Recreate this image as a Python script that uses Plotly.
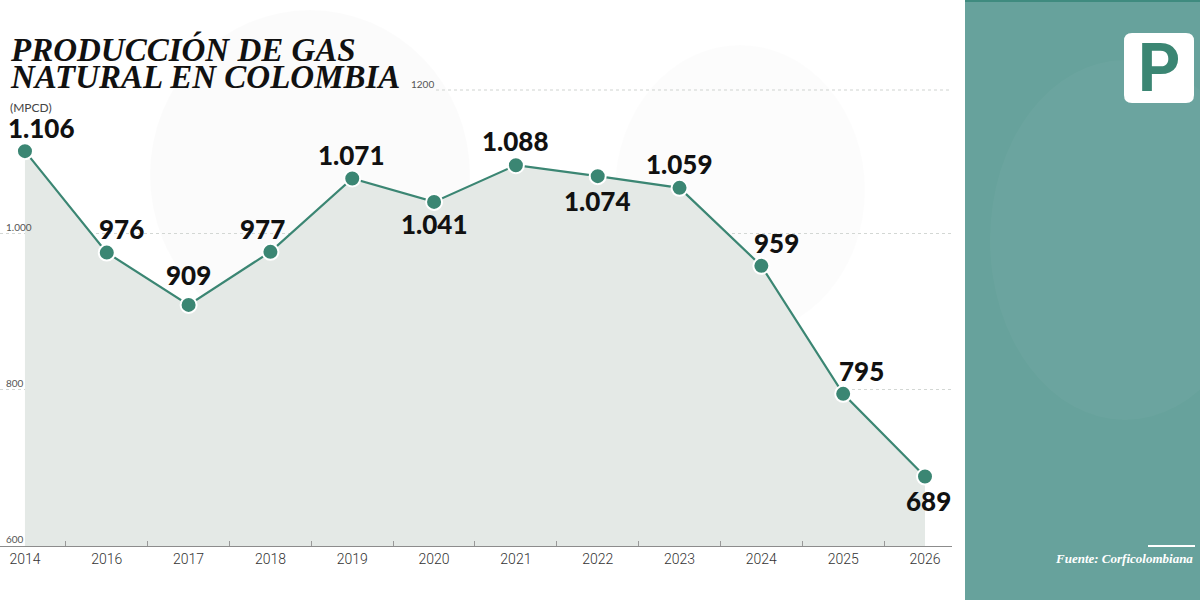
import plotly.graph_objects as go

# producción de gas natural, MPCD
years = ["2014", "2016", "2017", "2018", "2019", "2020",
         "2021", "2022", "2023", "2024", "2025", "2026"]
production = [1106, 976, 909, 977, 1071, 1041, 1088, 1074, 1059, 959, 795, 689]
y_ticks = [600, 800, 1000]
y_tick_text = ["600", "800", "1.000"]

# label offsets (px) from each marker: right, up
label_shift = [(17, 23), (15, 24), (0, 30), (-8, 23), (-1, 23), (0, -22),
               (0, 24), (0, -25), (0, 24), (15, 23), (18, 23), (3, -24)]

TEAL = "#3b8673"
FILL = "#e4e9e6"
PANEL = "#67a29c"

# plot area in px
L, T, PW, PH = 0, 31, 952, 515


def px(x):
    return (x - L) / PW


def py(y):
    return (T + PH - y) / PH


def fmt(v):
    return f"{v:,}".replace(",", ".")


idx = list(range(len(years)))

fig = go.Figure()
fig.add_trace(go.Scatter(
    x=idx, y=production,
    mode="lines+markers",
    fill="tozeroy", fillcolor=FILL,
    line=dict(color=TEAL, width=2.2),
    marker=dict(size=16, color=TEAL, line=dict(color="white", width=2)),
    cliponaxis=False,
    hoverinfo="skip",
))

annotations = []
for i, v in enumerate(production):
    dx, dy = label_shift[i]
    annotations.append(dict(
        x=i, y=v, xref="x", yref="y", text=fmt(v), showarrow=False,
        xshift=dx, yshift=dy, xanchor="center", yanchor="middle",
        font=dict(family="Lato", size=26, color="#111111", weight=900),
    ))

# y tick labels
for val, txt in zip(y_ticks, y_tick_text):
    annotations.append(dict(
        x=px(4), y=val, xref="paper", yref="y", text=txt, showarrow=False,
        xanchor="left", yanchor="bottom", yshift=-1,
        font=dict(family="Lato", size=10, color="#555555"),
    ))
annotations.append(dict(
    x=px(409), y=py(90), xref="paper", yref="paper", text="1200", showarrow=False,
    xanchor="left", yanchor="bottom", yshift=-2,
    font=dict(family="Lato", size=10, color="#555555"),
))

# title block
annotations += [
    dict(x=px(8), y=py(49), xref="paper", yref="paper",
         text="<b><i>PRODUCCIÓN DE GAS</i></b>", showarrow=False,
         xanchor="left", yanchor="middle",
         font=dict(family="Liberation Serif", size=33, color="#111111")),
    dict(x=px(8), y=py(77), xref="paper", yref="paper",
         text="<b><i>NATURAL EN COLOMBIA</i></b>", showarrow=False,
         xanchor="left", yanchor="middle",
         font=dict(family="Liberation Serif", size=33, color="#111111")),
    dict(x=px(8), y=py(107), xref="paper", yref="paper",
         text="(MPCD)", showarrow=False, xanchor="left", yanchor="middle",
         font=dict(family="Lato", size=12, color="#444444")),
    dict(x=px(1195), y=py(558), xref="paper", yref="paper",
         text="<b><i>Fuente: Corficolombiana</i></b>", showarrow=False,
         xanchor="right", yanchor="middle",
         font=dict(family="Liberation Serif", size=13, color="white")),
    dict(x=px(1159), y=py(68), xref="paper", yref="paper",
         text="<b>P</b>", showarrow=False, xanchor="center", yanchor="middle",
         font=dict(family="Roboto", size=66, color=TEAL)),
]

# rounded logo box
x0, x1, y0, y1, r = 1124, 1194, 33, 103, 8
logo = (f"M {px(x0 + r)} {py(y0)} L {px(x1 - r)} {py(y0)} "
        f"Q {px(x1)} {py(y0)} {px(x1)} {py(y0 + r)} L {px(x1)} {py(y1 - r)} "
        f"Q {px(x1)} {py(y1)} {px(x1 - r)} {py(y1)} L {px(x0 + r)} {py(y1)} "
        f"Q {px(x0)} {py(y1)} {px(x0)} {py(y1 - r)} L {px(x0)} {py(y0 + r)} "
        f"Q {px(x0)} {py(y0)} {px(x0 + r)} {py(y0)} Z")

shapes = [
    # faint background circles
    dict(type="circle", xref="paper", yref="paper", layer="below",
         x0=px(150), x1=px(470), y0=py(340), y1=py(10),
         fillcolor="rgba(0,0,0,0.014)", line=dict(width=0)),
    dict(type="circle", xref="paper", yref="paper", layer="below",
         x0=px(615), x1=px(865), y0=py(335), y1=py(45),
         fillcolor="rgba(0,0,0,0.012)", line=dict(width=0)),
    # 1200 gridline
    dict(type="line", xref="paper", yref="paper",
         x0=px(436), x1=px(952), y0=py(90), y1=py(90),
         line=dict(color="#cfd3d0", width=1, dash="dot")),
    # right panel
    dict(type="rect", xref="paper", yref="paper",
         x0=px(965), x1=px(1201), y0=py(601), y1=py(-1),
         fillcolor=PANEL, line=dict(width=0)),
    dict(type="circle", xref="paper", yref="paper",
         x0=px(990), x1=px(1260), y0=py(420), y1=py(60),
         fillcolor="rgba(255,255,255,0.03)", line=dict(width=0)),
    dict(type="rect", xref="paper", yref="paper",
         x0=px(965), x1=px(1201), y0=py(2), y1=py(-1),
         fillcolor="#3f8b7f", line=dict(width=0)),
    dict(type="path", xref="paper", yref="paper", path=logo,
         fillcolor="white", line=dict(width=0)),
    dict(type="line", xref="paper", yref="paper",
         x0=px(1148), x1=px(1195), y0=py(546), y1=py(546),
         line=dict(color="white", width=2)),
]

fig.update_layout(
    width=1200, height=600,
    margin=dict(l=L, r=1200 - L - PW, t=T, b=600 - T - PH),
    paper_bgcolor="white", plot_bgcolor="rgba(0,0,0,0)",
    showlegend=False,
    annotations=annotations,
    shapes=shapes,
    xaxis=dict(
        range=[-0.305, 11.33], tickvals=idx, ticktext=years,
        showgrid=False, zeroline=False, ticks="",
        showline=True, linecolor="#8c8c8c", linewidth=1.2,
        tickfont=dict(family="Roboto", size=14, color="#333333", weight=300),
        minor=dict(tickvals=[i + 0.5 for i in idx[:-1]], ticks="inside",
                   ticklen=5, tickcolor="#999999", tickwidth=1, showgrid=False),
    ),
    yaxis=dict(
        range=[600, 1260], tickvals=y_ticks[1:], showticklabels=False,
        showgrid=True, gridcolor="#d3d7d4", gridwidth=1, griddash="dot",
        zeroline=False, ticks="",
    ),
)

# drop the page's default body margin so the figure fills the window
fig.write_html("out.html", config={"displayModeBar": False},
               post_script="document.body.style.margin='0';")
